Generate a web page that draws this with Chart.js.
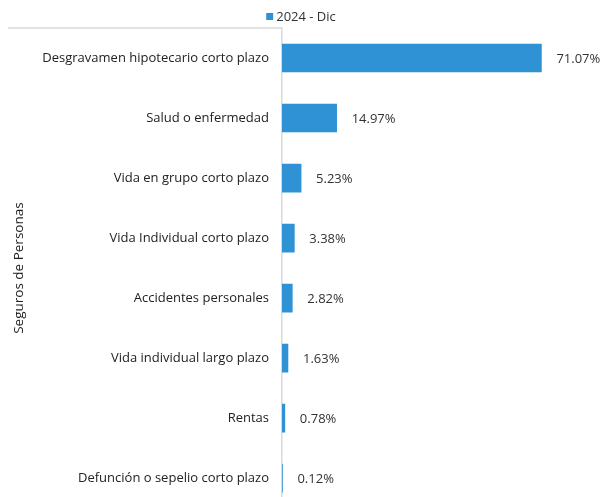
<!DOCTYPE html>
<html>
<head>
<meta charset="utf-8">
<script src="https://cdn.jsdelivr.net/npm/chart.js@4.4.1/dist/chart.umd.min.js"></script>
<style>
  html, body { margin: 0; padding: 0; background: #fff; overflow: hidden; }
  #chart { display: block; }
</style>
</head>
<body>
<canvas id="chart" width="602" height="529"></canvas>
<script>
// data
const categories = [
  'Desgravamen hipotecario corto plazo',
  'Salud o enfermedad',
  'Vida en grupo corto plazo',
  'Vida Individual corto plazo',
  'Accidentes personales',
  'Vida individual largo plazo',
  'Rentas',
  'Defunción o sepelio corto plazo'
];
const seriesName = '2024 - Dic';
const values = [71.07, 14.97, 5.23, 3.38, 2.82, 1.63, 0.78, 0.12];
const axisTitle = 'Seguros de Personas';

const BLUE = '#2E92D5';
const FONT = "'Open Sans', Lato, sans-serif";

// value labels, small legend on top, grouping bracket line
const extras = {
  id: 'extras',
  afterDatasetsDraw(chart) {
    const ctx = chart.ctx;
    const meta = chart.getDatasetMeta(0);
    const area = chart.chartArea;
    ctx.save();
    ctx.font = '13px ' + FONT;
    ctx.fillStyle = '#333';
    ctx.textAlign = 'left';
    ctx.textBaseline = 'middle';
    meta.data.forEach((bar, i) => {
      ctx.fillText(values[i].toFixed(2) + '%', bar.x + 15, bar.y + 1);
    });

    // legend
    const tw = ctx.measureText(seriesName).width;
    const lx = (chart.width - (7 + 3 + tw)) / 2;
    ctx.fillStyle = BLUE;
    ctx.fillRect(lx, 13, 7, 7);
    ctx.fillStyle = '#333';
    ctx.fillText(seriesName, lx + 10, 17);

    // top line of the category group box
    ctx.strokeStyle = '#d9d9d9';
    ctx.lineWidth = 1.5;
    ctx.beginPath();
    ctx.moveTo(8, area.top);
    ctx.lineTo(area.left, area.top);
    ctx.stroke();
    ctx.restore();
  }
};

new Chart(document.getElementById('chart'), {
  type: 'bar',
  data: {
    labels: categories,
    datasets: [{
      label: seriesName,
      data: values,
      backgroundColor: BLUE,
      borderWidth: 0,
      barThickness: 28
    }]
  },
  options: {
    indexAxis: 'y',
    responsive: false,
    animation: false,
    layout: { padding: { left: 8, right: 28, top: 28, bottom: 0 } },
    plugins: {
      legend: { display: false },
      tooltip: { enabled: false }
    },
    scales: {
      x: {
        display: false,
        min: 0, max: 80
      },
      y: {
        afterFit(scale) { scale.width = 274; },
        grid: { display: false, drawTicks: false },
        border: { display: true, color: '#d9d9d9', width: 1.5 },
        ticks: {
          color: '#222',
          padding: 13,
          font: { family: FONT, size: 13 }
        },
        title: {
          display: true,
          text: axisTitle,
          color: '#222',
          padding: { top: 3, bottom: 4 },
          font: { family: FONT, size: 13.5 }
        }
      }
    }
  },
  plugins: [extras]
});
</script>
</body>
</html>
